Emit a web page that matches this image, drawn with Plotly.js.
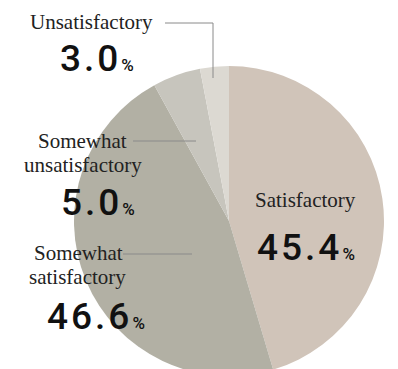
<!DOCTYPE html>
<html><head><meta charset="utf-8">
<script src="https://cdn.plot.ly/plotly-3.0.1.min.js"></script>
<style>html,body{margin:0;padding:0;overflow:hidden;background:#fff;width:398px;height:369px}</style>
</head><body><div id="chart"></div>
<script>
const categories = ["Satisfactory", "Somewhat satisfactory", "Somewhat unsatisfactory", "Unsatisfactory"];
const values = [45.4, 46.6, 5.0, 3.0];
const valueLabels = ["45.4", "46.6", "5.0", "3.0"];
const colors = ["#d0c4b9", "#b2b0a4", "#c7c5bd", "#dcd9d2"];

const W = 398, H = 376;
const px = x => x / W;
const py = y => 1 - y / H;
const serif = () => ({family: "Liberation Serif", size: 21, color: "#222"});
const num = () => ({family: "Roboto", size: 37, color: "#111", weight: 500});
const numText = v => '<span style="letter-spacing:3px">' + v + '</span><span style="font-size:17px">%</span>';

function ann(text, x, y, font) {
  return {text: text, x: px(x), y: py(y), xref: "paper", yref: "paper",
          xanchor: "center", yanchor: "middle", showarrow: false, font: font};
}
const annotations = [
  ann("Unsatisfactory", 91, 22, serif()),
  ann(numText(valueLabels[3]), 97, 58, num()),
  ann("Somewhat", 82, 141, serif()),
  ann("unsatisfactory", 83, 165, serif()),
  ann(numText(valueLabels[2]), 98, 202, num()),
  ann("Somewhat", 78, 253, serif()),
  ann("satisfactory", 77, 277, serif()),
  ann(numText(valueLabels[1]), 96, 316, num()),
  ann("Satisfactory", 305, 200, serif()),
  ann(numText(valueLabels[0]), 306, 247, num())
];
const lineStyle = {color: "#8a8a8a", width: 1};
const shapes = [
  {type: "path", xref: "paper", yref: "paper", layer: "above", line: lineStyle,
   path: `M ${px(165)} ${py(23)} L ${px(213)} ${py(23)} L ${px(213)} ${py(78)}`},
  {type: "line", xref: "paper", yref: "paper", layer: "above", line: lineStyle,
   x0: px(133), y0: py(141), x1: px(196), y1: py(141)},
  {type: "line", xref: "paper", yref: "paper", layer: "above", line: lineStyle,
   x0: px(123), y0: py(254), x1: px(192), y1: py(254)}
];

const data = [{
  type: "pie", labels: categories, values: values, sort: false,
  direction: "clockwise", rotation: 0,
  marker: {colors: colors, line: {width: 0}},
  textinfo: "none", hoverinfo: "none",
  domain: {x: [px(74), px(384)], y: [py(376), py(66)]}
}];
const layout = {width: W, height: H, margin: {l: 0, r: 0, t: 0, b: 0},
  showlegend: false, paper_bgcolor: "#fff", annotations: annotations, shapes: shapes};
Plotly.newPlot("chart", data, layout, {displayModeBar: false, staticPlot: true});
</script></body></html>
